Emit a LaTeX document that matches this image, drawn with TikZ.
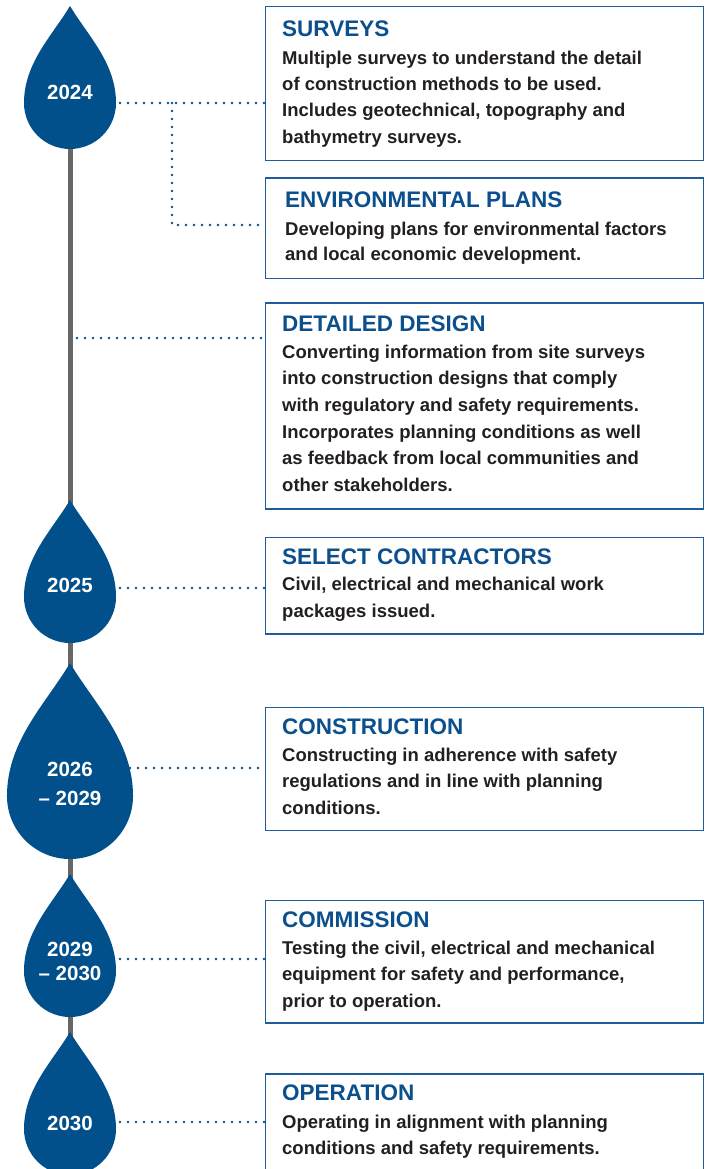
\documentclass[tikz,border=0pt]{standalone}
\usepackage{fontspec}
\setmainfont{Liberation Sans}
\usetikzlibrary{calc}
\definecolor{dropblue}{HTML}{02508B}
\definecolor{titleblue}{HTML}{0B4F8D}
\definecolor{boxblue}{HTML}{1F5C9C}
\definecolor{bodytext}{HTML}{231F20}
\definecolor{linegray}{HTML}{676767}
\newcommand\dropat[3]{%
  \fill[dropblue, shift={(#1,#2)}, scale=#3]
    (0,-97) .. controls (18,-67) and (46,-40) .. (46,0)
    .. controls (46,25.4) and (25.4,46) .. (0,46)
    .. controls (-25.4,46) and (-46,25.4) .. (-46,0)
    .. controls (-46,-40) and (-18,-67) .. (0,-97) -- cycle;}
\begin{document}
\begin{tikzpicture}[x=1pt,y=-1pt,
  infobox/.style={draw=boxblue, line width=1.3pt, rectangle, inner sep=0pt, anchor=north west, minimum width=438pt},
  ttl/.style={anchor=base west, inner sep=0pt, text=titleblue, font=\fontsize{22.5}{26}\selectfont\bfseries},
  bodyline/.style={anchor=base west, inner sep=0pt, text=bodytext, font=\fontsize{18.5}{26}\selectfont\bfseries},
  year/.style={inner sep=0pt, text=white, font=\fontsize{20.5}{24}\selectfont\bfseries},
  dots/.style={draw=dropblue, line width=2.9pt, line cap=round, dash pattern=on 0pt off 8pt},
  spine/.style={draw=linegray, line width=5pt}]
\useasboundingbox (0,0) rectangle (707,1169);

% spine
\coordinate (sp1) at (70,140);
\coordinate (sp2) at (70,1040);
\draw[spine] (sp1) -- (sp2);

% drops
\dropat{70}{103}{1}
\dropat{70}{597}{1}
\dropat{70}{796}{1.37}
\dropat{70}{971}{1}
\dropat{70}{1129}{1}

% year labels
\node[year] (y2024) at (70,92) {2024};
\node[year] (y2025) at (70,585) {2025};
\node[year] (y2026) at (70,769) {2026};
\node[year] (y2029a) at (70,798) {– 2029};
\node[year] (y2029b) at (70,949) {2029};
\node[year] (y2030a) at (70,973) {– 2030};
\node[year] (y2030) at (70,1123) {2030};

% boxes
\node[infobox, minimum height=154pt] (surveys) at (265,6) {};
\node[infobox, minimum height=100.5pt] (env) at (265,177.5) {};
\node[infobox, minimum height=206pt] (design) at (265,302.3) {};
\node[infobox, minimum height=96.6pt] (select) at (265,536.7) {};
\node[infobox, minimum height=123.3pt] (constr) at (265,706.7) {};
\node[infobox, minimum height=122.6pt] (commis) at (265,899.7) {};
\node[infobox, minimum height=140pt] (oper) at (265,1073.3) {};

% connectors
\coordinate (c1) at (120,103);
\draw[dots] (c1) -- (c1 -| surveys.west);
\coordinate (c1b) at (172,103);
\coordinate (c2) at (172,225);
\draw[dots] (c1b) -- (c2) -- (c2 -| env.west);
\coordinate (c3) at (77,338);
\draw[dots] (c3) -- (c3 -| design.west);
\coordinate (c4) at (120,588);
\draw[dots] (c4) -- (c4 -| select.west);
\coordinate (c5) at (130,768);
\draw[dots] (c5) -- (c5 -| constr.west);
\coordinate (c6) at (120,959);
\draw[dots] (c6) -- (c6 -| commis.west);
\coordinate (c7) at (120,1122);
\draw[dots] (c7) -- (c7 -| oper.west);

% texts
\node[ttl] (t1) at (282,36.7) {SURVEYS};
\foreach \txt [count=\i from 0] in {{Multiple surveys to understand the detail},{of construction methods to be used.},{Includes geotechnical, topography and},{bathymetry surveys.}}
  \node[bodyline] (b1-\i) at (282,64.3+26.35*\i) {\txt};

\node[ttl] (t2) at (285,207.3) {ENVIRONMENTAL PLANS};
\foreach \txt [count=\i from 0] in {{Developing plans for environmental factors},{and local economic development.}}
  \node[bodyline] (b2-\i) at (285,235+25.7*\i) {\txt};

\node[ttl] (t3) at (282,331) {DETAILED DESIGN};
\foreach \txt [count=\i from 0] in {{Converting information from site surveys},{into construction designs that comply},{with regulatory and safety requirements.},{Incorporates planning conditions as well},{as feedback from local communities and},{other stakeholders.}}
  \node[bodyline] (b3-\i) at (282,358.3+26.6*\i) {\txt};

\node[ttl] (t4) at (282,564.3) {SELECT CONTRACTORS};
\foreach \txt [count=\i from 0] in {{Civil, electrical and mechanical work},{packages issued.}}
  \node[bodyline] (b4-\i) at (282,590+27*\i) {\txt};

\node[ttl] (t5) at (282,734.3) {CONSTRUCTION};
\foreach \txt [count=\i from 0] in {{Constructing in adherence with safety},{regulations and in line with planning},{conditions.}}
  \node[bodyline] (b5-\i) at (282,761.7+26.2*\i) {\txt};

\node[ttl] (t6) at (282,927.3) {COMMISSION};
\foreach \txt [count=\i from 0] in {{Testing the civil, electrical and mechanical},{equipment for safety and performance,},{prior to operation.}}
  \node[bodyline] (b6-\i) at (282,954.7+26.2*\i) {\txt};

\node[ttl] (t7) at (282,1100) {OPERATION};
\foreach \txt [count=\i from 0] in {{Operating in alignment with planning},{conditions and safety requirements.}}
  \node[bodyline] (b7-\i) at (282,1128.3+26*\i) {\txt};
\end{tikzpicture}
\end{document}
